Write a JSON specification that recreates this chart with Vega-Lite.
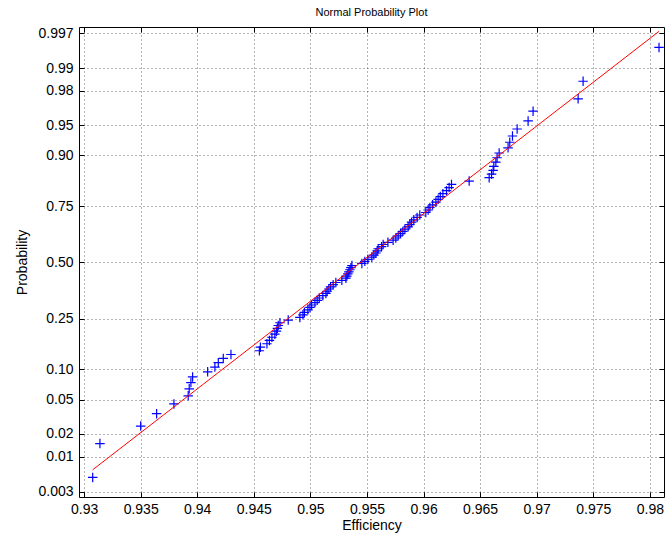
{
  "$schema": "https://vega.github.io/schema/vega-lite/v6.json",
  "width": 585,
  "height": 470,
  "autosize": {"type": "none"},
  "padding": {"left": 79, "top": 27, "right": 2, "bottom": 47},
  "background": "white",
  "title": {"text": "Normal Probability Plot", "font": "Liberation Sans", "fontSize": 11, "fontWeight": "normal", "color": "black", "offset": 8},
  "config": {
    "view": {"stroke": "black", "strokeWidth": 1},
    "axis": {
      "labelFont": "Liberation Sans", "labelFontSize": 14, "labelColor": "black",
      "titleFont": "Liberation Sans", "titleFontSize": 14, "titleFontWeight": "normal", "titleColor": "black",
      "tickColor": "black", "tickSize": -5, "domain": false,
      "gridColor": "#000000", "gridDash": [1, 3], "gridOpacity": 0.6, "gridWidth": 1
    }
  },
  "datasets": {
    "pts": [
      {"eff": 0.93076, "z": -2.5758}, {"eff": 0.93140, "z": -2.1701}, {"eff": 0.93500, "z": -1.9600}, {"eff": 0.93641, "z": -1.8119},
      {"eff": 0.93794, "z": -1.6954}, {"eff": 0.93920, "z": -1.5982}, {"eff": 0.93929, "z": -1.5141}, {"eff": 0.93944, "z": -1.4395},
      {"eff": 0.93959, "z": -1.3722}, {"eff": 0.94092, "z": -1.3106}, {"eff": 0.94156, "z": -1.2536}, {"eff": 0.94186, "z": -1.2004},
      {"eff": 0.94230, "z": -1.1503}, {"eff": 0.94298, "z": -1.1031}, {"eff": 0.94549, "z": -1.0581}, {"eff": 0.94558, "z": -1.0152},
      {"eff": 0.94616, "z": -0.9741}, {"eff": 0.94638, "z": -0.9346}, {"eff": 0.94660, "z": -0.8965}, {"eff": 0.94686, "z": -0.8596},
      {"eff": 0.94700, "z": -0.8239}, {"eff": 0.94708, "z": -0.7892}, {"eff": 0.94716, "z": -0.7554}, {"eff": 0.94731, "z": -0.7225},
      {"eff": 0.94804, "z": -0.6903}, {"eff": 0.94907, "z": -0.6588}, {"eff": 0.94934, "z": -0.6280}, {"eff": 0.94947, "z": -0.5978},
      {"eff": 0.94978, "z": -0.5681}, {"eff": 0.94996, "z": -0.5388}, {"eff": 0.95011, "z": -0.5101}, {"eff": 0.95040, "z": -0.4817},
      {"eff": 0.95060, "z": -0.4538}, {"eff": 0.95078, "z": -0.4261}, {"eff": 0.95110, "z": -0.3989}, {"eff": 0.95137, "z": -0.3719},
      {"eff": 0.95148, "z": -0.3451}, {"eff": 0.95163, "z": -0.3186}, {"eff": 0.95178, "z": -0.2924}, {"eff": 0.95201, "z": -0.2663},
      {"eff": 0.95225, "z": -0.2404}, {"eff": 0.95278, "z": -0.2147}, {"eff": 0.95314, "z": -0.1891}, {"eff": 0.95322, "z": -0.1637},
      {"eff": 0.95331, "z": -0.1383}, {"eff": 0.95340, "z": -0.1130}, {"eff": 0.95349, "z": -0.0878}, {"eff": 0.95358, "z": -0.0627},
      {"eff": 0.95367, "z": -0.0376}, {"eff": 0.95455, "z": -0.0125}, {"eff": 0.95481, "z": 0.0125}, {"eff": 0.95508, "z": 0.0376},
      {"eff": 0.95543, "z": 0.0627}, {"eff": 0.95561, "z": 0.0878}, {"eff": 0.95579, "z": 0.1130}, {"eff": 0.95590, "z": 0.1383},
      {"eff": 0.95599, "z": 0.1637}, {"eff": 0.95629, "z": 0.1891}, {"eff": 0.95643, "z": 0.2147}, {"eff": 0.95685, "z": 0.2404},
      {"eff": 0.95731, "z": 0.2663}, {"eff": 0.95755, "z": 0.2924}, {"eff": 0.95776, "z": 0.3186}, {"eff": 0.95797, "z": 0.3451},
      {"eff": 0.95817, "z": 0.3719}, {"eff": 0.95835, "z": 0.3989}, {"eff": 0.95864, "z": 0.4261}, {"eff": 0.95879, "z": 0.4538},
      {"eff": 0.95894, "z": 0.4817}, {"eff": 0.95914, "z": 0.5101}, {"eff": 0.95943, "z": 0.5388}, {"eff": 0.95967, "z": 0.5681},
      {"eff": 0.96020, "z": 0.5978}, {"eff": 0.96041, "z": 0.6280}, {"eff": 0.96056, "z": 0.6588}, {"eff": 0.96080, "z": 0.6903},
      {"eff": 0.96109, "z": 0.7225}, {"eff": 0.96129, "z": 0.7554}, {"eff": 0.96148, "z": 0.7892}, {"eff": 0.96171, "z": 0.8239},
      {"eff": 0.96203, "z": 0.8596}, {"eff": 0.96226, "z": 0.8965}, {"eff": 0.96247, "z": 0.9346}, {"eff": 0.96403, "z": 0.9741},
      {"eff": 0.96580, "z": 1.0152}, {"eff": 0.96601, "z": 1.0581}, {"eff": 0.96615, "z": 1.1031}, {"eff": 0.96621, "z": 1.1503},
      {"eff": 0.96639, "z": 1.2004}, {"eff": 0.96650, "z": 1.2536}, {"eff": 0.96668, "z": 1.3106}, {"eff": 0.96747, "z": 1.3722},
      {"eff": 0.96762, "z": 1.4395}, {"eff": 0.96786, "z": 1.5141}, {"eff": 0.96827, "z": 1.5982}, {"eff": 0.96924, "z": 1.6954},
      {"eff": 0.96968, "z": 1.8119}, {"eff": 0.97366, "z": 1.9600}, {"eff": 0.97410, "z": 2.1701}, {"eff": 0.98081, "z": 2.5758}
    ],
    "fit": [
      {"eff": 0.93076, "z": -2.484},
      {"eff": 0.98081, "z": 2.768}
    ]
  },
  "layer": [
    {
      "data": {"name": "pts"},
      "mark": {"type": "point", "shape": "M-1,0L1,0M0,-1L0,1", "filled": false, "color": "#0000ff", "size": 90, "strokeWidth": 1.2, "opacity": 1, "clip": true},
      "encoding": {
        "x": {"field": "eff", "type": "quantitative", "scale": {"domain": [0.92955, 0.98125], "zero": false, "nice": false},
              "axis": {"orient": "bottom", "title": "Efficiency", "values": [0.93, 0.935, 0.94, 0.945, 0.95, 0.955, 0.96, 0.965, 0.97, 0.975, 0.98],
                       "format": "~g", "grid": true, "labelPadding": 10, "titlePadding": 2}},
        "y": {"field": "z", "type": "quantitative", "scale": {"domain": [-2.81, 2.82], "zero": false, "nice": false},
              "axis": {"orient": "left", "title": "Probability", "values": [-2.7478, -2.3263, -2.0537, -1.6449, -1.2816, -0.6745, 0, 0.6745, 1.2816, 1.6449, 2.0537, 2.3263, 2.7478],
                       "labelExpr": "datum.value < -2.5 ? '0.003' : datum.value < -2.2 ? '0.01' : datum.value < -1.9 ? '0.02' : datum.value < -1.5 ? '0.05' : datum.value < -1 ? '0.10' : datum.value < -0.3 ? '0.25' : datum.value < 0.3 ? '0.50' : datum.value < 1 ? '0.75' : datum.value < 1.5 ? '0.90' : datum.value < 1.9 ? '0.95' : datum.value < 2.2 ? '0.98' : datum.value < 2.5 ? '0.99' : '0.997'",
                       "grid": true, "labelPadding": 11, "titlePadding": 8}}
      }
    },
    {
      "data": {"name": "fit"},
      "mark": {"type": "line", "color": "#ff0000", "strokeWidth": 1, "clip": true},
      "encoding": {
        "x": {"field": "eff", "type": "quantitative",
              "axis": {"orient": "top", "title": null, "labels": false, "grid": false, "values": [0.93, 0.935, 0.94, 0.945, 0.95, 0.955, 0.96, 0.965, 0.97, 0.975, 0.98]}},
        "y": {"field": "z", "type": "quantitative",
              "axis": {"orient": "right", "title": null, "labels": false, "grid": false, "values": [-2.7478, -2.3263, -2.0537, -1.6449, -1.2816, -0.6745, 0, 0.6745, 1.2816, 1.6449, 2.0537, 2.3263, 2.7478]}}
      }
    }
  ],
  "resolve": {"axis": {"x": "independent", "y": "independent"}}
}
